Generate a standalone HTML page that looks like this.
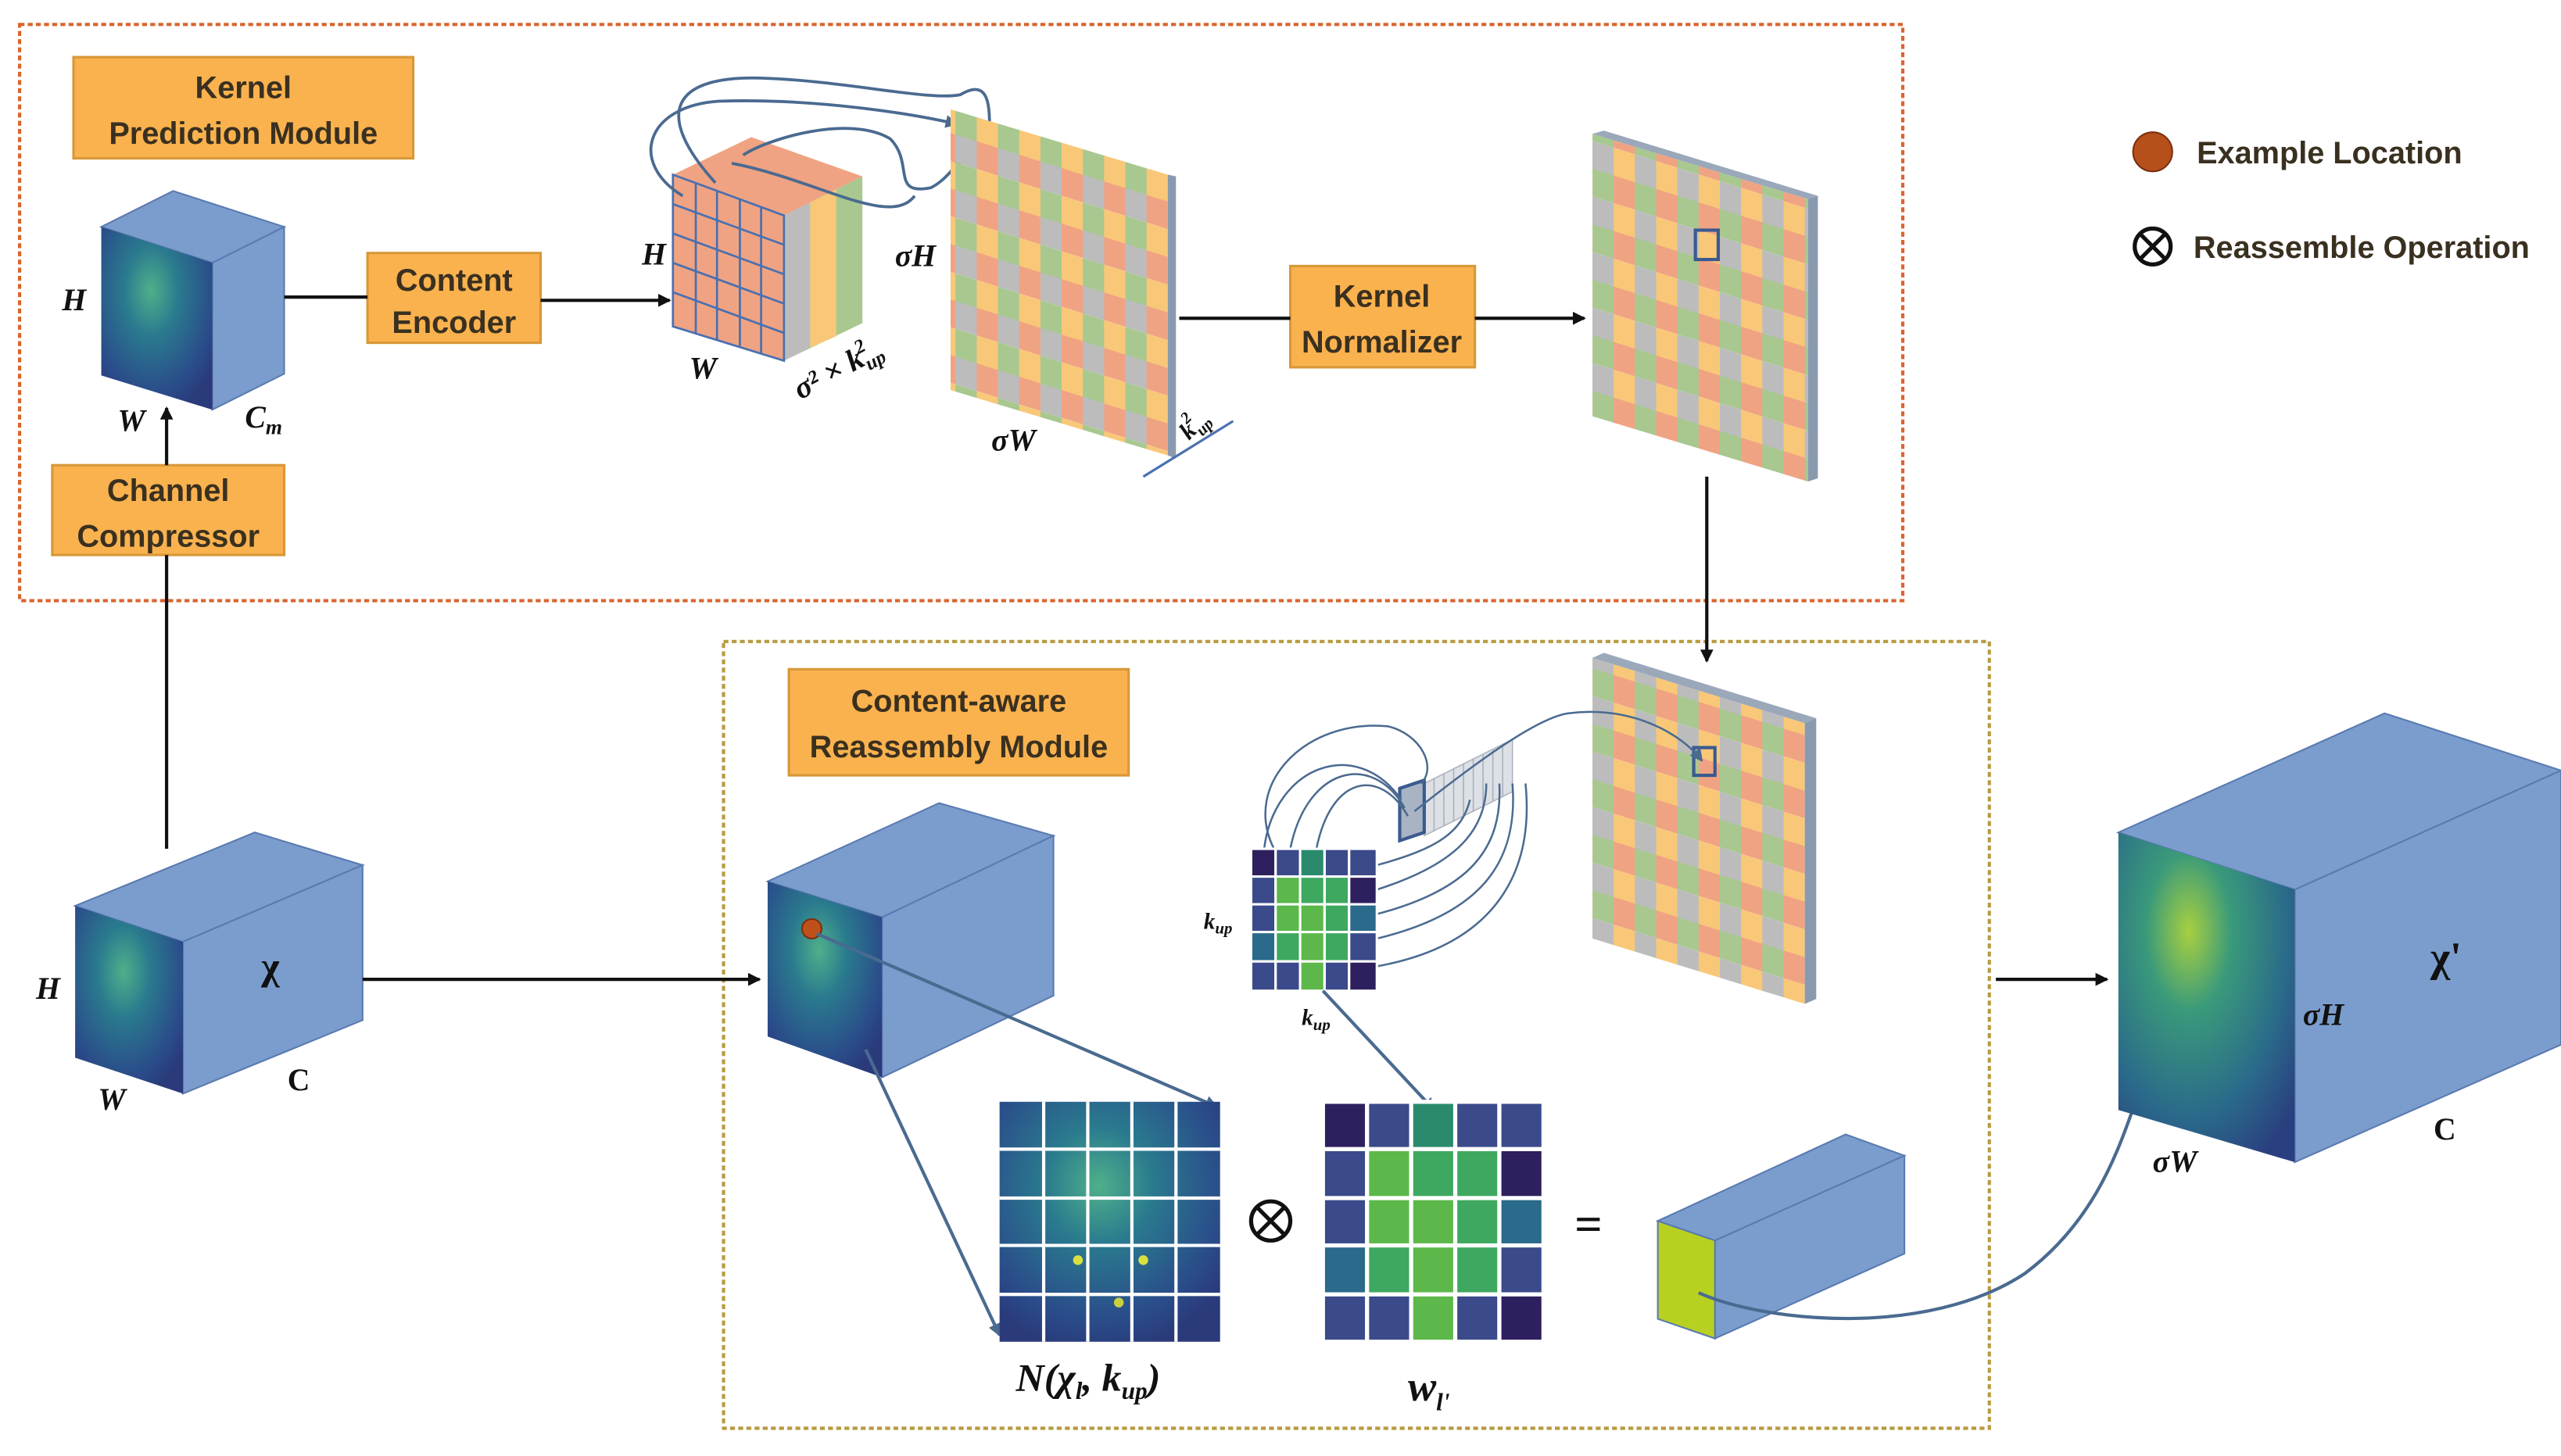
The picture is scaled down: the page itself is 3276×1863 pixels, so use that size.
<!DOCTYPE html>
<html><head><meta charset="utf-8"><style>
html,body{margin:0;padding:0;background:#fff;}
svg{display:block;}
.lb{font-family:"Liberation Sans",sans-serif;font-weight:bold;font-size:19px;fill:#3a3020;text-anchor:middle;}
.m{font-family:"Liberation Serif",serif;font-weight:bold;font-style:italic;fill:#111;}
.box{fill:#f9b24e;stroke:#d89838;stroke-width:1.5;}
</style></head><body>
<svg width="3276" height="1863" viewBox="0 0 1568 892" preserveAspectRatio="none" xmlns="http://www.w3.org/2000/svg">
<defs>
<marker id="ar" markerWidth="8" markerHeight="8" refX="7" refY="4" orient="auto" markerUnits="userSpaceOnUse"><path d="M0,0 L8,4 L0,8 z" fill="#111"/></marker>
<marker id="ab" markerWidth="8" markerHeight="8" refX="7" refY="4" orient="auto" markerUnits="userSpaceOnUse"><path d="M0,0 L8,4 L0,8 z" fill="#4a6a90"/></marker>
<radialGradient id="hm" cx="0.45" cy="0.35" r="0.7"><stop offset="0" stop-color="#4fb08a"/><stop offset="0.35" stop-color="#2a7a8e"/><stop offset="0.8" stop-color="#2a4c8a"/><stop offset="1" stop-color="#2a3a7a"/></radialGradient>
<radialGradient id="hm2" cx="0.4" cy="0.3" r="0.8"><stop offset="0" stop-color="#a8d040"/><stop offset="0.3" stop-color="#3a9a7a"/><stop offset="0.7" stop-color="#2a6a8a"/><stop offset="1" stop-color="#2a3f7f"/></radialGradient>
<pattern id="chk" width="26" height="34" patternUnits="userSpaceOnUse" patternTransform="skewY(17.5)">
<rect width="13" height="17" fill="#f0a383"/><rect x="13" width="13" height="17" fill="#bcbcbc"/>
<rect y="17" width="13" height="17" fill="#f8c878"/><rect x="13" y="17" width="13" height="17" fill="#a8c890"/>
</pattern>
<pattern id="chk2" width="26" height="34" patternUnits="userSpaceOnUse" patternTransform="skewY(17.5)">
<rect width="13" height="17" fill="#f0a383"/><rect x="13" width="13" height="17" fill="#a8c890"/>
<rect y="17" width="13" height="17" fill="#f8c878"/><rect x="13" y="17" width="13" height="17" fill="#bcbcbc"/>
</pattern>
</defs>

<rect x="12" y="15" width="1153" height="353" fill="none" stroke="#d9652e" stroke-width="2" stroke-dasharray="3,2"/>
<rect x="443" y="393" width="775" height="482" fill="none" stroke="#b89a40" stroke-width="2" stroke-dasharray="3,2"/>

<rect class="box" x="45" y="35" width="208" height="62"/>
<text class="lb" x="149" y="60">Kernel</text><text class="lb" x="149" y="88">Prediction Module</text>
<rect class="box" x="225" y="155" width="106" height="55"/>
<text class="lb" x="278" y="178">Content</text><text class="lb" x="278" y="204">Encoder</text>
<rect class="box" x="32" y="285" width="142" height="55"/>
<text class="lb" x="103" y="307">Channel</text><text class="lb" x="103" y="335">Compressor</text>
<rect class="box" x="790" y="163" width="113" height="62"/>
<text class="lb" x="846" y="188">Kernel</text><text class="lb" x="846" y="216">Normalizer</text>
<rect class="box" x="483" y="410" width="208" height="65"/>
<text class="lb" x="587" y="436">Content-aware</text><text class="lb" x="587" y="464">Reassembly Module</text>

<circle cx="1318" cy="93" r="12" fill="#b5501a" stroke="#7a3010" stroke-width="1"/>
<text class="lb" x="1345" y="100" style="text-anchor:start">Example Location</text>
<circle cx="1318" cy="151" r="11" fill="none" stroke="#111" stroke-width="2.5"/>
<path d="M1310,143 L1326,159 M1326,143 L1310,159" stroke="#111" stroke-width="2.5"/>
<text class="lb" x="1343" y="158" style="text-anchor:start">Reassemble Operation</text>

<polygon points="62,139 106,117 174,139 130,161" fill="#7b9dce" stroke="#5a7ab0"/>
<polygon points="130,161 174,139 174,229 130,251" fill="#7b9dce" stroke="#5a7ab0"/>
<polygon points="62,139 130,161 130,251 62,230" fill="url(#hm)"/>
<text class="m" x="38" y="190" font-size="19">H</text>
<text class="m" x="72" y="264" font-size="19">W</text>
<text class="m" x="150" y="262" font-size="19">C<tspan font-size="13" dy="4">m</tspan></text>
<line x1="174" y1="182" x2="225" y2="182" stroke="#111" stroke-width="2"/>
<line x1="331" y1="184" x2="410" y2="184" stroke="#111" stroke-width="2" marker-end="url(#ar)"/>
<line x1="102" y1="520" x2="102" y2="340" stroke="#111" stroke-width="2"/>
<line x1="102" y1="285" x2="102" y2="250" stroke="#111" stroke-width="2" marker-end="url(#ar)"/>

<!-- stacked tensor (solid block) -->
<polygon points="412,107 460,84 528,108 480,132" fill="#f0a383"/>
<polygon points="480,132 528,108 528,198 480,221" fill="#a8c890"/>
<polygon points="480,132 496,124 496,213 480,221" fill="#bcbcbc"/>
<polygon points="496,124 512,116 512,206 496,213" fill="#f8c878"/>
<polygon points="412,107 480,132 480,221 412,200" fill="#f0a383"/>
<g stroke="#4a70b0" stroke-width="1.3" fill="none">
<polygon points="412,107 480,132 480,221 412,200"/>
<line x1="426" y1="112" x2="426" y2="204"/><line x1="439" y1="117" x2="439" y2="208"/><line x1="453" y1="122" x2="453" y2="212"/><line x1="466" y1="127" x2="466" y2="217"/>
<line x1="412" y1="125" x2="480" y2="150"/><line x1="412" y1="143" x2="480" y2="168"/><line x1="412" y1="161" x2="480" y2="186"/><line x1="412" y1="179" x2="480" y2="204"/>
</g>
<text class="m" x="393" y="162" font-size="19">H</text>
<text class="m" x="422" y="232" font-size="19">W</text>
<text class="m" font-size="19" transform="translate(490,245) rotate(-28)">σ² × k<tspan font-size="12" dy="4">up</tspan><tspan font-size="12" dy="-12" dx="-14">2</tspan></text>

<g fill="none" stroke="#4a6a90" stroke-width="1.8">
<path d="M418,120 C385,100 395,65 440,62 C500,60 560,70 586,76" marker-end="url(#ab)"/>
<path d="M438,112 C400,70 410,45 470,48 C520,50 570,62 588,58 C610,45 605,75 606,90" marker-end="url(#ab)"/>
<path d="M455,95 C470,85 520,70 545,85 C560,100 545,120 570,115 C580,110 585,100 590,98" marker-end="url(#ab)"/>
<path d="M448,100 C500,110 545,140 560,120" />
</g>

<polygon points="582,67 715,107 715,279 582,239" fill="url(#chk)"/>
<polygon points="715,107 720,108 720,281 715,279" fill="#8a9aae"/>
<text class="m" x="548" y="163" font-size="19">σH</text>
<text class="m" x="607" y="276" font-size="19">σW</text>
<text class="m" font-size="15" transform="translate(728,270) rotate(-45)">k<tspan font-size="10" dy="4">up</tspan><tspan font-size="10" dy="-12" dx="-12">2</tspan></text>
<line x1="700" y1="292" x2="755" y2="258" stroke="#4a70b0" stroke-width="1.5"/>
<line x1="722" y1="195" x2="790" y2="195" stroke="#111" stroke-width="2"/>
<line x1="903" y1="195" x2="970" y2="195" stroke="#111" stroke-width="2" marker-end="url(#ar)"/>

<polygon points="975,82 1107,122 1107,295 975,255" fill="url(#chk2)"/>
<polygon points="975,82 982,80 1113,120 1107,122" fill="#9aa8ba"/>
<polygon points="1107,122 1113,120 1113,293 1107,295" fill="#8a9aae"/>
<rect x="1038" y="141" width="14" height="18" fill="none" stroke="#3a5a90" stroke-width="2"/>
<line x1="1045" y1="292" x2="1045" y2="405" stroke="#111" stroke-width="2" marker-end="url(#ar)"/>

<polygon points="975,403 1105,443 1105,615 975,575" fill="url(#chk2)"/>
<polygon points="975,403 982,400 1112,440 1105,443" fill="#9aa8ba"/>
<polygon points="1105,443 1112,440 1112,612 1105,615" fill="#8a9aae"/>
<rect x="1037" y="458" width="13" height="17" fill="none" stroke="#3a5a90" stroke-width="2"/>

<!-- kernel stack of thin slabs -->
<g fill="#dde1e6" stroke="#a8b0bb" stroke-width="0.7">
<polygon points="920,456 926,453 926,485 920,488"/>
<polygon points="914,459 920,456 920,488 914,491"/>
<polygon points="908,462 914,459 914,491 908,494"/>
<polygon points="902,465 908,462 908,494 902,497"/>
<polygon points="896,468 902,465 902,497 896,500"/>
<polygon points="890,471 896,468 896,500 890,503"/>
<polygon points="884,474 890,471 890,503 884,506"/>
<polygon points="878,477 884,474 884,506 878,509"/>
<polygon points="872,480 878,477 878,509 872,512"/>
</g>
<polygon points="857,483 872,478 872,510 857,515" fill="#a8b4c4" stroke="#3a5a90" stroke-width="2"/>
<g fill="none" stroke="#4a6a90" stroke-width="1.2">
<path d="M866,497 C900,470 940,440 960,437 C1000,432 1030,450 1042,466" marker-end="url(#ab)"/>
<path d="M774,520 C780,470 830,450 858,490"/>
<path d="M790,520 C800,470 840,460 860,495"/>
<path d="M806,520 C815,475 845,470 862,500"/>
<path d="M843,530 C880,520 895,510 900,490"/>
<path d="M843,545 C890,530 910,510 910,480"/>
<path d="M843,560 C900,545 920,520 918,480"/>
<path d="M843,575 C905,560 930,530 926,480"/>
<path d="M843,592 C910,580 940,540 934,480"/>
<path d="M780,520 C760,480 800,440 850,445 C870,450 880,470 870,480"/>
</g>
<g stroke="#fff" stroke-width="1.5">
<rect x="766" y="520" width="15" height="17" fill="#2e1f5e"/><rect x="781" y="520" width="15" height="17" fill="#3a4a8a"/><rect x="796" y="520" width="15" height="17" fill="#2a8a6e"/><rect x="811" y="520" width="15" height="17" fill="#3a4a8a"/><rect x="826" y="520" width="17" height="17" fill="#3a4a8a"/>
<rect x="766" y="537" width="15" height="17" fill="#3a4a8a"/><rect x="781" y="537" width="15" height="17" fill="#5cb84a"/><rect x="796" y="537" width="15" height="17" fill="#3ea860"/><rect x="811" y="537" width="15" height="17" fill="#3ea860"/><rect x="826" y="537" width="17" height="17" fill="#2e1f5e"/>
<rect x="766" y="554" width="15" height="17" fill="#3a4a8a"/><rect x="781" y="554" width="15" height="17" fill="#5cb84a"/><rect x="796" y="554" width="15" height="17" fill="#5cb84a"/><rect x="811" y="554" width="15" height="17" fill="#3ea860"/><rect x="826" y="554" width="17" height="17" fill="#2a6a8a"/>
<rect x="766" y="571" width="15" height="18" fill="#2a6a8a"/><rect x="781" y="571" width="15" height="18" fill="#3ea860"/><rect x="796" y="571" width="15" height="18" fill="#5cb84a"/><rect x="811" y="571" width="15" height="18" fill="#3ea860"/><rect x="826" y="571" width="17" height="18" fill="#3a4a8a"/>
<rect x="766" y="589" width="15" height="18" fill="#3a4a8a"/><rect x="781" y="589" width="15" height="18" fill="#3a4a8a"/><rect x="796" y="589" width="15" height="18" fill="#5cb84a"/><rect x="811" y="589" width="15" height="18" fill="#3a4a8a"/><rect x="826" y="589" width="17" height="18" fill="#2e1f5e"/>
</g>
<text class="m" x="737" y="569" font-size="14">k<tspan font-size="10" dy="3">up</tspan></text>
<text class="m" x="797" y="628" font-size="14">k<tspan font-size="10" dy="3">up</tspan></text>
<line x1="810" y1="607" x2="878" y2="680" stroke="#4a6a90" stroke-width="2" marker-end="url(#ab)"/>

<polygon points="46,555 156,510 222,530 112,577" fill="#7b9dce" stroke="#5a7ab0"/>
<polygon points="112,577 222,530 222,625 112,670" fill="#7b9dce" stroke="#5a7ab0"/>
<polygon points="46,555 112,577 112,670 46,648" fill="url(#hm)"/>
<text class="m" x="160" y="600" font-size="24" style="font-style:normal">χ</text>
<text class="m" x="22" y="612" font-size="19">H</text>
<text class="m" x="60" y="680" font-size="19">W</text>
<text class="m" x="176" y="668" font-size="19" style="font-style:normal">C</text>
<line x1="222" y1="600" x2="465" y2="600" stroke="#111" stroke-width="2" marker-end="url(#ar)"/>

<polygon points="470,540 575,492 645,512 540,562" fill="#7b9dce" stroke="#5a7ab0"/>
<polygon points="540,562 645,512 645,610 540,660" fill="#7b9dce" stroke="#5a7ab0"/>
<polygon points="470,540 540,562 540,660 470,635" fill="url(#hm)"/>
<circle cx="497" cy="569" r="6" fill="#c0501a" stroke="#7a3010"/>
<line x1="500" y1="572" x2="745" y2="678" stroke="#4a6a90" stroke-width="2" marker-end="url(#ab)"/>
<line x1="530" y1="643" x2="612" y2="818" stroke="#4a6a90" stroke-width="2" marker-end="url(#ab)"/>

<rect x="612" y="675" width="135" height="147" fill="url(#hm)"/>
<g stroke="#fff" stroke-width="2">
<line x1="639" y1="675" x2="639" y2="822"/><line x1="666" y1="675" x2="666" y2="822"/><line x1="693" y1="675" x2="693" y2="822"/><line x1="720" y1="675" x2="720" y2="822"/>
<line x1="612" y1="704" x2="747" y2="704"/><line x1="612" y1="734" x2="747" y2="734"/><line x1="612" y1="763" x2="747" y2="763"/><line x1="612" y1="793" x2="747" y2="793"/>
</g>
<circle cx="660" cy="772" r="3" fill="#d8e040"/><circle cx="700" cy="772" r="3" fill="#d8e040"/><circle cx="685" cy="798" r="3" fill="#c8d040"/>
<text class="m" x="622" y="852" font-size="24">N(χ<tspan font-size="15" dy="5">l</tspan><tspan dy="-5">, k</tspan><tspan font-size="15" dy="5">up</tspan><tspan dy="-5">)</tspan></text>

<circle cx="778" cy="748" r="12" fill="none" stroke="#111" stroke-width="2.5"/>
<path d="M770,740 L786,756 M786,740 L770,756" stroke="#111" stroke-width="2.5"/>

<g stroke="#fff" stroke-width="2.5">
<rect x="810" y="675" width="27" height="29" fill="#2e1f5e"/><rect x="837" y="675" width="27" height="29" fill="#3a4a8a"/><rect x="864" y="675" width="27" height="29" fill="#2a8a6e"/><rect x="891" y="675" width="27" height="29" fill="#3a4a8a"/><rect x="918" y="675" width="27" height="29" fill="#3a4a8a"/>
<rect x="810" y="704" width="27" height="30" fill="#3a4a8a"/><rect x="837" y="704" width="27" height="30" fill="#5cb84a"/><rect x="864" y="704" width="27" height="30" fill="#3ea860"/><rect x="891" y="704" width="27" height="30" fill="#3ea860"/><rect x="918" y="704" width="27" height="30" fill="#2e1f5e"/>
<rect x="810" y="734" width="27" height="29" fill="#3a4a8a"/><rect x="837" y="734" width="27" height="29" fill="#5cb84a"/><rect x="864" y="734" width="27" height="29" fill="#5cb84a"/><rect x="891" y="734" width="27" height="29" fill="#3ea860"/><rect x="918" y="734" width="27" height="29" fill="#2a6a8a"/>
<rect x="810" y="763" width="27" height="30" fill="#2a6a8a"/><rect x="837" y="763" width="27" height="30" fill="#3ea860"/><rect x="864" y="763" width="27" height="30" fill="#5cb84a"/><rect x="891" y="763" width="27" height="30" fill="#3ea860"/><rect x="918" y="763" width="27" height="30" fill="#3a4a8a"/>
<rect x="810" y="793" width="27" height="29" fill="#3a4a8a"/><rect x="837" y="793" width="27" height="29" fill="#3a4a8a"/><rect x="864" y="793" width="27" height="29" fill="#5cb84a"/><rect x="891" y="793" width="27" height="29" fill="#3a4a8a"/><rect x="918" y="793" width="27" height="29" fill="#2e1f5e"/>
</g>
<text class="m" x="862" y="858" font-size="26">w<tspan font-size="15" dy="6">l'</tspan></text>
<text class="m" x="964" y="760" font-size="30" style="font-style:normal">=</text>

<polygon points="1015,748 1130,695 1166,708 1050,760" fill="#7b9dce" stroke="#5a7ab0"/>
<polygon points="1050,760 1166,708 1166,768 1050,820" fill="#7b9dce" stroke="#5a7ab0"/>
<polygon points="1015,748 1050,760 1050,820 1015,808" fill="#b8d020" stroke="#5a7ab0"/>
<path d="M1040,792 C1080,810 1180,820 1240,780 C1280,750 1295,710 1305,682" fill="none" stroke="#4a6a90" stroke-width="2"/>
<line x1="1222" y1="600" x2="1290" y2="600" stroke="#111" stroke-width="2" marker-end="url(#ar)"/>

<polygon points="1297,510 1460,437 1568,472 1405,545" fill="#7b9dce" stroke="#5a7ab0"/>
<polygon points="1405,545 1568,472 1568,640 1405,712" fill="#7b9dce" stroke="#5a7ab0"/>
<polygon points="1297,510 1405,545 1405,712 1297,680" fill="url(#hm2)"/>
<text class="m" x="1410" y="628" font-size="19">σH</text>
<text class="m" x="1488" y="595" font-size="26" style="font-style:normal">χ'</text>
<text class="m" x="1490" y="698" font-size="19" style="font-style:normal">C</text>
<text class="m" x="1318" y="718" font-size="19">σW</text>
</svg>
</body></html>
